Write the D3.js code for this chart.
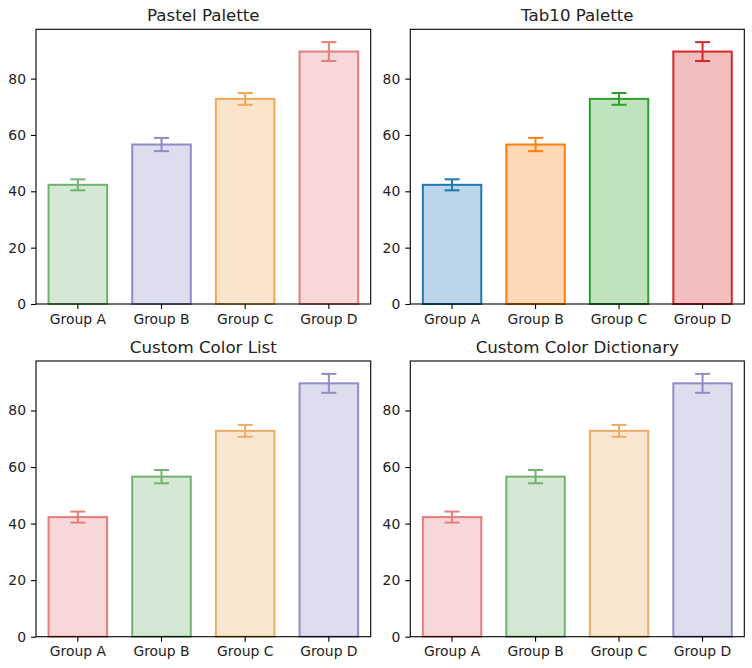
<!DOCTYPE html>
<html>
<head>
<meta charset="utf-8">
<script src="https://cdn.jsdelivr.net/npm/d3@7.9.0/dist/d3.min.js"></script>
<style>
  body { margin: 0; background: #fff; }
  svg { display: block; font-family: "DejaVu Sans", sans-serif; }
</style>
</head>
<body>
<div id="chart"></div>
<script>
// data
const groups = ['Group A', 'Group B', 'Group C', 'Group D'];
const values = [42.3, 56.6, 72.8, 89.6];
const errors = [1.95, 2.35, 2.1, 3.35];
const yTicks = [0, 20, 40, 60, 80];

const titles = ['Pastel Palette', 'Tab10 Palette', 'Custom Color List', 'Custom Color Dictionary'];

// palettes for each panel
const pastelColors = ['#72b270', '#8f8dc6', '#efa856', '#e67c7c'];
const tab10Colors = ['#1f77b4', '#ff7f0e', '#2ca02c', '#d62728'];
const customList = ['#e67c7c', '#72b270', '#e9ad68', '#8f8dc6'];
const customDict = { 'Group A': '#e67c7c', 'Group B': '#72b270', 'Group C': '#e9ad68', 'Group D': '#8f8dc6' };

const width = 752, height = 668;

// axes boxes (left, top, right, bottom) in px
const panels = [
  { x0: 36, y0: 29.3, x1: 370.7, y1: 304, colors: pastelColors },
  { x0: 410.3, y0: 29.3, x1: 744.3, y1: 304, colors: tab10Colors },
  { x0: 36, y0: 361, x1: 370.7, y1: 636.7, colors: customList },
  { x0: 410.3, y0: 361, x1: 744.3, y1: 636.7, colors: groups.map(g => customDict[g]) },
];

const svg = d3.select('#chart').append('svg')
  .attr('width', width)
  .attr('height', height);

panels.forEach((p, i) => {
  const w = p.x1 - p.x0, h = p.y1 - p.y0;
  const g = svg.append('g').attr('transform', `translate(${p.x0},${p.y0})`);

  const x = d3.scaleBand().domain(groups).range([0, w]).paddingInner(0.3).paddingOuter(0.15);
  const y = d3.scaleLinear().domain([0, 97.5]).range([h, 0]);

  const rows = groups.map((name, j) => ({ name, value: values[j], err: errors[j], color: p.colors[j] }));

  // bars
  g.selectAll('rect.bar')
    .data(rows)
    .join('rect')
    .attr('class', 'bar')
    .attr('x', d => x(d.name))
    .attr('width', x.bandwidth())
    .attr('y', d => y(d.value))
    .attr('height', d => y(0) - y(d.value))
    .attr('fill', d => d.color)
    .attr('fill-opacity', 0.3)
    .attr('stroke', d => d.color)
    .attr('stroke-width', 2);

  // error bars
  const eb = g.selectAll('g.err').data(rows).join('g').attr('class', 'err')
    .attr('stroke', d => d.color).attr('stroke-width', 2);
  const cx = d => x(d.name) + x.bandwidth() / 2;
  eb.append('line')
    .attr('x1', cx).attr('x2', cx)
    .attr('y1', d => y(d.value - d.err)).attr('y2', d => y(d.value + d.err));
  eb.append('line')
    .attr('x1', d => cx(d) - 7.5).attr('x2', d => cx(d) + 7.5)
    .attr('y1', d => y(d.value + d.err)).attr('y2', d => y(d.value + d.err));
  eb.append('line')
    .attr('x1', d => cx(d) - 7.5).attr('x2', d => cx(d) + 7.5)
    .attr('y1', d => y(d.value - d.err)).attr('y2', d => y(d.value - d.err));

  // axes
  const yAxis = g.append('g')
    .call(d3.axisLeft(y).tickValues(yTicks).tickSize(5).tickPadding(5).tickSizeOuter(0));
  const xAxis = g.append('g')
    .attr('transform', `translate(0,${h})`)
    .call(d3.axisBottom(x).tickSize(5).tickPadding(5).tickSizeOuter(0));
  [xAxis, yAxis].forEach(a => {
    a.select('.domain').remove();
    a.selectAll('.tick line').attr('stroke', '#000').attr('stroke-width', 1.1);
    a.selectAll('.tick text').attr('fill', '#222').style('font-size', '13.9px').style('font-family', '"DejaVu Sans", sans-serif');
  });
  xAxis.selectAll('.tick text').attr('y', 9).attr('dy', '0.76em');

  // frame
  g.append('rect')
    .attr('width', w).attr('height', h)
    .attr('fill', 'none').attr('stroke', '#000').attr('stroke-width', 1.1);

  // title
  g.append('text')
    .attr('x', w / 2).attr('y', -8.3)
    .attr('text-anchor', 'middle')
    .attr('fill', '#222')
    .style('font-size', '16.67px')
    .text(titles[i]);
});
</script>
</body>
</html>
